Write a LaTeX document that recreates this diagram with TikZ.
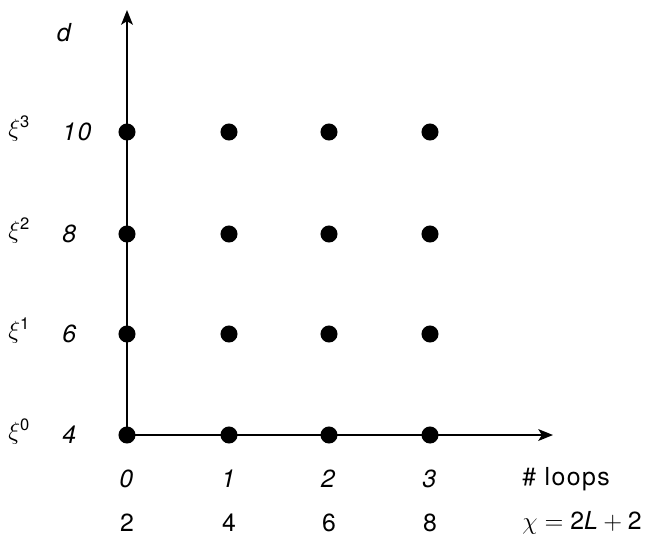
\documentclass[tikz,border=0pt]{standalone}
\usepackage{amsmath}
\usepackage{fontspec}
\setmainfont{TeX Gyre Heros}[LetterSpace=6]
\usetikzlibrary{arrows.meta}
\tikzset{
  dot/.style={circle,fill=black,inner sep=0pt,minimum size=0.29cm},
  axis/.style={line width=0.9pt,-{Stealth[length=0.25cm,width=0.2cm,inset=0.06cm]}},
  lab/.style={inner sep=0pt,font=\fontsize{12pt}{14pt}\selectfont},
}
\begin{document}
\begin{tikzpicture}[x=0.017cm,y=-0.017cm]
\useasboundingbox (0,0) rectangle (650,537);
% axes
\coordinate (ytop) at (127,10);
\coordinate (xend) at (553,435);
\foreach \i/\x in {0/127,1/229,2/329,3/430}{
  \foreach \j/\y in {0/435,1/334,2/234,3/132}{
    \node[dot] (p\i\j) at (\x,\y) {};
  }
}
\draw[axis] (p00.center) -- (ytop);
\draw[axis] (p00.center) -- (xend);
% left labels
\node[lab] (d) at (65,33) {\textit{d}};
\foreach \j/\y/\val in {0/435/4,1/334/6,2/234/8,3/132/10}{
  \node[lab,anchor=west] (v\j) at (62,\y) {\textit{\val}};
  \node[lab,anchor=west] (xi\j) at (8,\y-3) {$\xi^{\text{\j}}$};
}
% bottom labels
\foreach \i/\x/\c in {0/127/2,1/229/4,2/329/6,3/430/8}{
  \node[lab] (l\i) at (\x,479) {\textit{\i}};
  \node[lab] (c\i) at (\x,523) {\c};
}
\node[lab,anchor=west] (loops) at (522,479) {\# loops};
\node[lab,anchor=west] (chi) at (522,523) {$\chi = \text{2}\textit{L} + \text{2}$};
\end{tikzpicture}
\end{document}
